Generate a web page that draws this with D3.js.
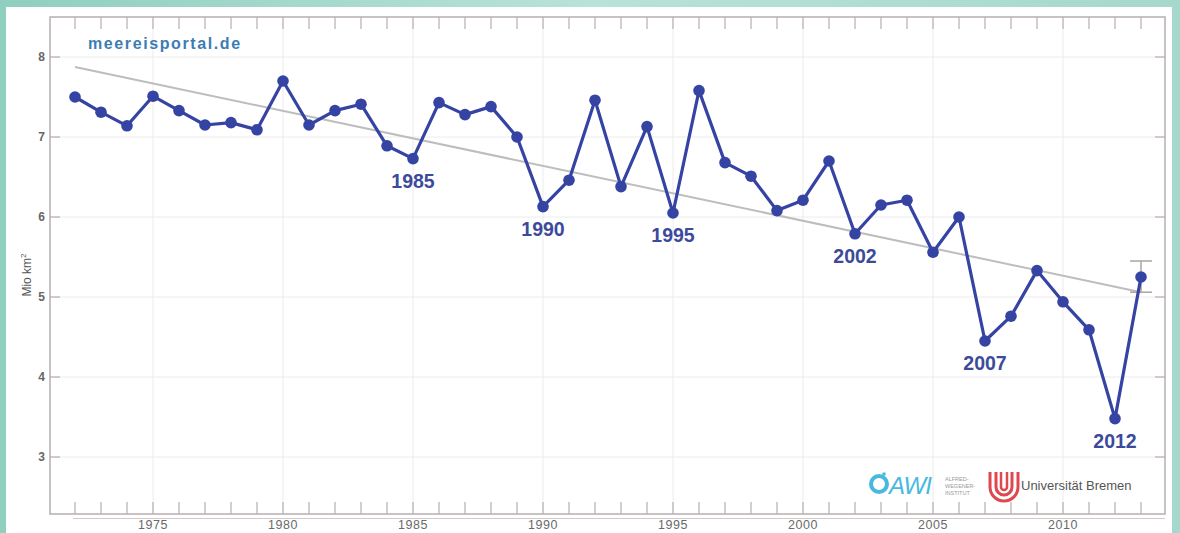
<!DOCTYPE html>
<html><head><meta charset="utf-8">
<script src="https://cdn.jsdelivr.net/npm/d3@7/dist/d3.min.js"></script>
<style>html,body{margin:0;padding:0;background:#fff;}svg{display:block;}</style>
</head><body>
<svg id="c" width="1180" height="533"></svg>
<script>
// ---- data ----
const years = [1972,1973,1974,1975,1976,1977,1978,1979,1980,1981,1982,1983,1984,1985,1986,1987,1988,1989,1990,1991,1992,1993,1994,1995,1996,1997,1998,1999,2000,2001,2002,2003,2004,2005,2006,2007,2008,2009,2010,2011,2012,2013];
const extent = [7.50,7.31,7.14,7.51,7.33,7.15,7.18,7.09,7.70,7.15,7.33,7.41,6.89,6.73,7.43,7.28,7.38,7.00,6.13,6.46,7.46,6.38,7.13,6.05,7.58,6.68,6.51,6.08,6.21,6.70,5.79,6.15,6.21,5.56,6.00,4.45,4.76,5.33,4.94,4.59,3.48,5.25];
const trendYears = [1972, 2013];
const trendValues = [7.875, 5.06];
const errorYear = 2013;
const errorRange = [5.06, 5.45];
const labelYears = [1985, 1990, 1995, 2002, 2007, 2012];
const yTicks = [3,4,5,6,7,8];
const xLabelTicks = [1975,1980,1985,1990,1995,2000,2005,2010];
const yAxisTitle = "Mio km";
const sourceText = "meereisportal.de";

// ---- layout ----
const svg = d3.select("#c");
const W = 1180, H = 533;
const frame = {l:50, r:1165, t:17, b:514};
const x = d3.scaleLinear().domain([1972, 2013]).range([75, 1141]);
const y = d3.scaleLinear().domain([3, 8]).range([457, 57]);

// background (photo surround)
const defs = svg.append("defs");
const g1 = defs.append("linearGradient").attr("id","bg").attr("x1","0").attr("x2","1").attr("y1","0").attr("y2","0");
g1.append("stop").attr("offset","0").attr("stop-color","#8fcfc0");
g1.append("stop").attr("offset","0.5").attr("stop-color","#b9e2d8");
g1.append("stop").attr("offset","1").attr("stop-color","#a6d8cb");
svg.append("rect").attr("width",W).attr("height",H).attr("fill","url(#bg)");
svg.append("rect").attr("x",6).attr("y",7).attr("width",1166).attr("height",H-7).attr("fill","#ffffff");

// grid
const gridColor = "#ececec";
svg.append("g").selectAll("line").data(xLabelTicks).join("line")
  .attr("x1",d=>x(d)).attr("x2",d=>x(d)).attr("y1",frame.t).attr("y2",frame.b)
  .attr("stroke",gridColor).attr("stroke-width",1);
svg.append("g").selectAll("line").data(yTicks).join("line")
  .attr("x1",frame.l).attr("x2",frame.r).attr("y1",d=>y(d)).attr("y2",d=>y(d))
  .attr("stroke",gridColor).attr("stroke-width",1);

// frame
const axisColor = "#b7aeae";
svg.append("rect").attr("x",frame.l).attr("y",frame.t).attr("width",frame.r-frame.l).attr("height",frame.b-frame.t)
  .attr("fill","none").attr("stroke",axisColor).attr("stroke-width",1.5);

// year ticks top & bottom (inward)
const tl = 12;
svg.append("g").selectAll("line").data(years).join("line")
  .attr("x1",d=>x(d)).attr("x2",d=>x(d)).attr("y1",frame.b).attr("y2",frame.b-tl)
  .attr("stroke",axisColor).attr("stroke-width",1.2);
svg.append("g").selectAll("line").data(years).join("line")
  .attr("x1",d=>x(d)).attr("x2",d=>x(d)).attr("y1",frame.t).attr("y2",frame.t+tl)
  .attr("stroke",axisColor).attr("stroke-width",1.2);
// y ticks left & right
svg.append("g").selectAll("line").data(yTicks).join("line")
  .attr("x1",frame.l).attr("x2",frame.l+10).attr("y1",d=>y(d)).attr("y2",d=>y(d))
  .attr("stroke",axisColor).attr("stroke-width",1.2);
svg.append("g").selectAll("line").data(yTicks).join("line")
  .attr("x1",frame.r).attr("x2",frame.r-10).attr("y1",d=>y(d)).attr("y2",d=>y(d))
  .attr("stroke",axisColor).attr("stroke-width",1.2);
// extra baseline under frame
svg.append("line").attr("x1",x(1972)-2).attr("x2",frame.r).attr("y1",518.5).attr("y2",518.5)
  .attr("stroke","#d0caca").attr("stroke-width",1);

// tick labels
svg.append("g").selectAll("text").data(yTicks).join("text")
  .attr("x",45).attr("y",d=>y(d)+4).attr("text-anchor","end")
  .attr("font-family","Liberation Sans, Arial, sans-serif").attr("font-size",12).attr("font-weight","bold")
  .attr("fill","#666").text(d=>d);
svg.append("g").selectAll("text").data(xLabelTicks).join("text")
  .attr("x",d=>x(d)).attr("y",529).attr("text-anchor","middle")
  .attr("font-family","Liberation Sans, Arial, sans-serif").attr("font-size",12.5)
  .attr("fill","#6a6a6a").attr("letter-spacing","0.6").text(d=>d);

// y axis title
const yt = svg.append("text").attr("transform","translate(31,275) rotate(-90)")
  .attr("text-anchor","middle").attr("font-family","Liberation Sans, Arial, sans-serif")
  .attr("font-size",12).attr("fill","#555");
yt.append("tspan").text(yAxisTitle);
yt.append("tspan").attr("dy",-5).attr("font-size",8).text("2");

// source
svg.append("text").attr("x",88).attr("y",49).attr("font-family","Liberation Sans, Arial, sans-serif")
  .attr("font-size",16).attr("font-weight","bold").attr("letter-spacing","1.6")
  .attr("fill","#3b7db2").text(sourceText);

// trend line
svg.append("line").attr("x1",x(trendYears[0])).attr("y1",y(trendValues[0]))
  .attr("x2",x(trendYears[1])).attr("y2",y(trendValues[1]))
  .attr("stroke","#bdbdbd").attr("stroke-width",2);

// error bar
const ex = x(errorYear);
const eb = svg.append("g").attr("stroke","#a9a4a4").attr("stroke-width",1.5);
eb.append("line").attr("x1",ex).attr("x2",ex).attr("y1",y(errorRange[0])).attr("y2",y(errorRange[1]));
errorRange.forEach(v=>eb.append("line").attr("x1",ex-11).attr("x2",ex+11).attr("y1",y(v)).attr("y2",y(v)));

// series
const blue = "#3543a3";
const data = years.map((yr,i)=>({yr, v:extent[i]}));
svg.append("path").datum(data)
  .attr("d", d3.line().x(d=>x(d.yr)).y(d=>y(d.v)))
  .attr("fill","none").attr("stroke",blue).attr("stroke-width",3.2).attr("stroke-linejoin","round");
svg.append("g").selectAll("circle").data(data).join("circle")
  .attr("cx",d=>x(d.yr)).attr("cy",d=>y(d.v)).attr("r",5.8).attr("fill",blue);

// annotations
svg.append("g").selectAll("text").data(labelYears).join("text")
  .attr("x",d=>x(d)).attr("y",d=>y(extent[years.indexOf(d)])+29)
  .attr("text-anchor","middle").attr("font-family","Liberation Sans, Arial, sans-serif")
  .attr("font-size",19.5).attr("font-weight","bold").attr("fill","#3c4a9c").text(d=>d);

// logos
const lg = svg.append("g").attr("font-family","Liberation Sans, Arial, sans-serif");
lg.append("circle").attr("cx",879).attr("cy",484).attr("r",8).attr("fill","none").attr("stroke","#49b8de").attr("stroke-width",4);
lg.append("circle").attr("cx",884).attr("cy",474).attr("r",1.8).attr("fill","#49b8de");
lg.append("text").attr("x",889).attr("y",494).attr("font-size",24).attr("font-style","italic")
  .attr("fill","#49b8de").attr("letter-spacing","-1").text("AWI");
["ALFRED-","WEGENER-","INSTITUT"].forEach((t,i)=>lg.append("text").attr("x",945).attr("y",481+i*7)
  .attr("font-size",5.5).attr("fill","#9a9a9a").text(t));
lg.append("path").attr("d","M990,472 L990,487 A14,14 0 0 0 1018,487 L1018,472")
  .attr("fill","none").attr("stroke","#e0484f").attr("stroke-width",3);
lg.append("path").attr("d","M996,472 L996,487 A8,8 0 0 0 1012,487 L1012,472")
  .attr("fill","none").attr("stroke","#e0484f").attr("stroke-width",3);
lg.append("path").attr("d","M1001,472 L1001,487 A3,3 0 0 0 1007,487 L1007,472")
  .attr("fill","none").attr("stroke","#e0484f").attr("stroke-width",2.5);
lg.append("text").attr("x",1021).attr("y",490).attr("font-size",13).attr("fill","#555").text("Universität Bremen");
</script>
</body></html>
